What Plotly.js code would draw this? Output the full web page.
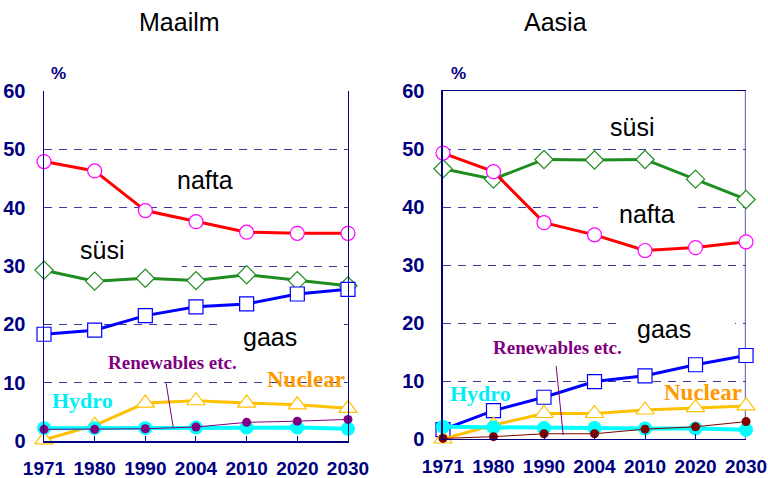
<!DOCTYPE html>
<html>
<head>
<meta charset="utf-8">
<script src="https://cdn.plot.ly/plotly-3.0.1.min.js"></script>
<style>html,body{margin:0;padding:0;background:#fff;}#chart{width:768px;height:478px;}</style>
</head>
<body>
<div id="chart"></div>
<script>
// ---- data ----
const years = ["1971", "1980", "1990", "2004", "2010", "2020", "2030"];

// Maailm (World)
const worldOil = [47.9, 46.3, 39.5, 37.6, 35.8, 35.6, 35.6];
const worldCoal = [29.3, 27.4, 27.9, 27.5, 28.5, 27.5, 26.6];
const worldGas = [18.3, 19.0, 21.5, 23.0, 23.5, 25.2, 26.0];
const worldNuclear = [0.2, 2.7, 6.5, 6.9, 6.5, 6.2, 5.6];
const worldHydro = [2.2, 2.2, 2.2, 2.3, 2.3, 2.3, 2.1];
const worldRenew = [2.0, 2.0, 2.1, 2.4, 3.2, 3.4, 3.7];

// Aasia (Asia)
const asiaOil = [49.3, 46.1, 37.3, 35.2, 32.5, 33.0, 34.0];
const asiaCoal = [46.6, 44.8, 48.2, 48.1, 48.2, 44.8, 41.3];
const asiaGas = [1.6, 4.9, 7.2, 9.9, 10.9, 12.8, 14.4];
const asiaNuclear = [0.0, 2.4, 4.4, 4.4, 5.0, 5.4, 5.7];
const asiaHydro = [2.1, 2.0, 1.9, 1.9, 1.8, 1.8, 1.6];
const asiaRenew = [0.1, 0.4, 0.9, 0.9, 1.7, 2.1, 3.0];

const panelTitles = ["Maailm", "Aasia"];

// ---- drawing ----
const idx = years.map((_, i) => i);
const NAVY = "#000080";

function series(vals, xa, ya, lineColor, lineWidth, marker) {
  return {
    x: idx, y: vals, xaxis: xa, yaxis: ya, type: "scatter", mode: "lines+markers",
    line: {color: lineColor, width: lineWidth}, marker: marker, cliponaxis: false,
    showlegend: false, hoverinfo: "skip"
  };
}
function panel(xa, ya, oil, coal, gas, nuc, hyd, ren, renColor) {
  return [
    series(coal, xa, ya, "#1E8C1E", 3, {symbol: "diamond", size: 14, color: "#fff", line: {color: "#1E8C1E", width: 1.2}}),
    series(oil, xa, ya, "#FF0000", 3, {symbol: "circle", size: 14, color: "#fff", line: {color: "#FF00FF", width: 1.2}}),
    series(gas, xa, ya, "#0000FF", 3, {symbol: "square", size: 14, color: "#fff", line: {color: "#0000FF", width: 1.2}}),
    series(nuc, xa, ya, "#FFC000", 3, {symbol: "triangle-up", size: 16, color: "#fff", line: {color: "#FFC000", width: 1.2}}),
    series(hyd, xa, ya, "#00FFFF", 4, {symbol: "circle", size: 14, color: "#00FFFF", line: {width: 0}}),
    series(ren, xa, ya, renColor, 1, {symbol: "circle", size: 9, color: renColor, line: {width: 0}})
  ];
}

const data = []
  .concat(panel("x", "y", worldOil, worldCoal, worldGas, worldNuclear, worldHydro, worldRenew, "#800080"))
  .concat(panel("x2", "y2", asiaOil, asiaCoal, asiaGas, asiaNuclear, asiaHydro, asiaRenew, "#800000"));

const tickFontX = {family: "Liberation Sans, Arial", size: 19, color: NAVY, weight: "bold"};
const tickFontY = {family: "Liberation Sans, Arial", size: 20, color: NAVY, weight: "bold"};

function xAxis(domain, anchor, mirror) {
  return {
    domain: domain, anchor: anchor, range: [0, 6], tickmode: "array", tickvals: idx, ticktext: years,
    showgrid: false, zeroline: false, showline: true, linecolor: NAVY, linewidth: 1.5, mirror: mirror,
    ticks: "inside", ticklen: 5, tickcolor: NAVY, tickfont: tickFontX, ticklabelstandoff: 10, fixedrange: true
  };
}
function yAxis(domain, anchor, mirror) {
  return {
    domain: domain, anchor: anchor, range: [0, 60], dtick: 10, tick0: 0,
    showgrid: true, gridcolor: "#3A3A9A", griddash: "8px,7px", gridwidth: 1,
    zeroline: false, showline: true, linecolor: NAVY, linewidth: 1.5, mirror: mirror,
    ticks: "", tickfont: tickFontY, ticklabelstandoff: 13, fixedrange: true
  };
}

const lblFont = (size, color, serif) => ({
  family: serif ? "Liberation Serif, Times New Roman" : "Liberation Sans, Arial",
  size: size, color: color, weight: serif ? "bold" : "normal"
});
function txt(xref, yref, x, y, text, font) {
  return {xref: xref, yref: yref, x: x, y: y, text: text, showarrow: false, font: font, xanchor: "center", yanchor: "middle"};
}
const pctFont = {family: "Liberation Sans, Arial", size: 17, color: NAVY, weight: "bold"};

const annotations = [
  {xref: "paper", yref: "paper", x: 0.2331, y: 0.955, text: panelTitles[0], showarrow: false, font: lblFont(25, "#000"), xanchor: "center", yanchor: "middle"},
  {xref: "paper", yref: "paper", x: 0.7227, y: 0.955, text: panelTitles[1], showarrow: false, font: lblFont(25, "#000"), xanchor: "center", yanchor: "middle"},
  {xref: "paper", yref: "paper", x: 0.0768, y: 0.847, text: "%", showarrow: false, font: pctFont, xanchor: "center", yanchor: "middle"},
  {xref: "paper", yref: "paper", x: 0.5964, y: 0.847, text: "%", showarrow: false, font: pctFont, xanchor: "center", yanchor: "middle"},
  // left panel labels
  txt("x", "y", 3.18, 44.7, "nafta", lblFont(25, "#000")),
  txt("x", "y", 1.14, 32.7, "süsi", lblFont(25, "#000")),
  txt("x", "y", 4.46, 17.8, "gaas", lblFont(25, "#000")),
  txt("x", "y", 2.53, 13.5, "Renewables etc.", lblFont(19, "#800080", true)),
  txt("x", "y", 5.17, 10.5, "Nuclear", lblFont(23, "#FF9900", true)),
  txt("x", "y", 0.75, 7.0, "Hydro", lblFont(22, "#00EEF4", true)),
  // right panel labels
  txt("x2", "y2", 3.74, 53.8, "süsi", lblFont(25, "#000")),
  txt("x2", "y2", 4.04, 38.8, "nafta", lblFont(25, "#000")),
  txt("x2", "y2", 4.38, 19.0, "gaas", lblFont(25, "#000")),
  txt("x2", "y2", 2.26, 15.7, "Renewables etc.", lblFont(19, "#800080", true)),
  txt("x2", "y2", 5.15, 8.1, "Nuclear", lblFont(23, "#FF9900", true)),
  txt("x2", "y2", 0.75, 7.9, "Hydro", lblFont(22, "#00EEF4", true))
];

// white masks behind label text boxes (hide gridline segments), leader lines, right border
const mask = (xr, yr, x0, x1, y0, y1) => ({type: "rect", layer: "between", xref: xr, yref: yr, x0: x0, x1: x1, y0: y0, y1: y1, fillcolor: "#fff", line: {width: 0}});
const shapes = [
  mask("x", "y", 0.02, 2.72, 29.4, 30.6),
  mask("x", "y", 3.51, 5.9, 19.4, 20.6),
  mask("x2", "y2", 3.07, 4.99, 39.4, 40.6),
  mask("x2", "y2", 3.5, 5.78, 19.4, 20.6),
  {type: "line", xref: "x", yref: "y", x0: 2.41, y0: 9.9, x1: 2.55, y1: 2.4, line: {color: "#800080", width: 1}},
  {type: "line", xref: "x2", yref: "y2", x0: 2.24, y0: 12.6, x1: 2.38, y1: 0.7, line: {color: "#800080", width: 1}},
  {type: "line", layer: "below", xref: "x2", yref: "y2 domain", x0: 6, x1: 6, y0: 0, y1: 1, line: {color: "#7474C4", width: 2.5}}
];

const layout = {
  width: 768, height: 478, margin: {l: 0, r: 0, t: 0, b: 0},
  paper_bgcolor: "#fff", plot_bgcolor: "#fff", showlegend: false,
  xaxis: xAxis([0.0573, 0.4531], "y", false),
  yaxis: yAxis([0.0774, 0.8096], "x", true),
  xaxis2: xAxis([0.5768, 0.9714], "y2", true),
  yaxis2: yAxis([0.0816, 0.8096], "x2", false),
  annotations: annotations, shapes: shapes
};

Plotly.newPlot("chart", data, layout, {staticPlot: true, displayModeBar: false});
</script>
</body>
</html>
